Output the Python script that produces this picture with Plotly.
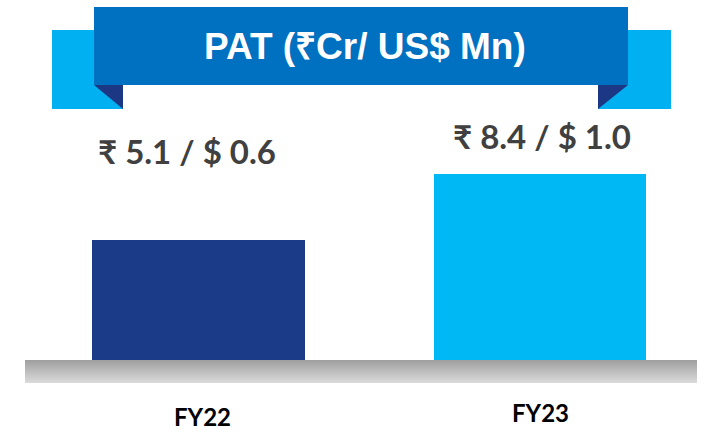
import plotly.graph_objects as go

# ---- data ----
categories = ["FY22", "FY23"]
pat_inr_cr = [5.1, 8.4]
pat_usd_mn = [0.6, 1.0]
title_text = "PAT (₹Cr/ US$ Mn)"

W, H = 705, 432
BAR_BASE = -0.9
bar_colors = ["#1B3A87", "#00B8F4"]


def px(x):
    return x / W


def py(y):
    return 1 - y / H


fig = go.Figure()
fig.add_trace(go.Bar(
    x=categories,
    y=[v - BAR_BASE for v in pat_inr_cr],
    base=BAR_BASE,
    width=0.6237,
    marker=dict(color=bar_colors, line=dict(width=0)),
    hoverinfo="skip",
))

shapes = []
# gradient grey floor band
y0, y1 = 360, 383
n = 23
c_top, c_bot = (160, 160, 160), (218, 218, 218)
for i in range(n):
    t = i / (n - 1)
    c = tuple(round(a + (b - a) * t) for a, b in zip(c_top, c_bot))
    shapes.append(dict(type="rect", xref="paper", yref="paper",
                       x0=px(25), x1=px(697),
                       y0=py(y0 + (y1 - y0) * i / n), y1=py(y0 + (y1 - y0) * (i + 1) / n),
                       fillcolor="rgb(%d,%d,%d)" % c, line=dict(width=0), layer="above"))

# banner wings
for (a, b) in [(52, 123), (598, 671)]:
    shapes.append(dict(type="rect", xref="paper", yref="paper",
                       x0=px(a), x1=px(b), y0=py(109), y1=py(30),
                       fillcolor="#00B0F0", line=dict(width=0), layer="above"))
# folds
for pts in [[(94, 85), (123, 85), (123, 109)], [(598, 85), (628, 85), (598, 109)]]:
    path = "M " + " L ".join("%f,%f" % (px(x), py(y)) for x, y in pts) + " Z"
    shapes.append(dict(type="path", xref="paper", yref="paper", path=path,
                       fillcolor="#1C3885", line=dict(width=0), layer="above"))
# main banner
shapes.append(dict(type="rect", xref="paper", yref="paper",
                   x0=px(94), x1=px(628), y0=py(85), y1=py(7),
                   fillcolor="#0070C0", line=dict(width=0), layer="above"))

annotations = [dict(x=px(365), y=py(47), xref="paper", yref="paper",
                    text="<b>%s</b>" % title_text, showarrow=False,
                    font=dict(family="Liberation Sans", size=37, color="white"),
                    xanchor="center", yanchor="middle")]

value_pos = [(187, 151), (541.5, 136)]
cat_pos = [(202.5, 432, "bottom"), (540, 412.5, "middle")]
for i, cat in enumerate(categories):
    annotations.append(dict(x=px(value_pos[i][0]), y=py(value_pos[i][1]), xref="paper", yref="paper",
                            text="<b>₹ %.1f / $ %.1f</b>" % (pat_inr_cr[i], pat_usd_mn[i]),
                            showarrow=False, xanchor="center", yanchor="middle",
                            font=dict(family="Lato", size=33, color="#404040")))
    annotations.append(dict(x=px(cat_pos[i][0]), y=py(cat_pos[i][1]), xref="paper", yref="paper",
                            text="<b>%s</b>" % cat, showarrow=False, borderpad=0,
                            xanchor="center", yanchor=cat_pos[i][2],
                            font=dict(family="Lato", size=24, color="#000000")))

fig.update_layout(
    width=W, height=H,
    margin=dict(l=0, r=0, t=0, b=0),
    paper_bgcolor="white", plot_bgcolor="white",
    showlegend=False,
    bargap=0,
    xaxis=dict(range=[-0.5813, 1.4832], showticklabels=False, showgrid=False,
               zeroline=False, showline=False, ticks=""),
    yaxis=dict(range=[-4.5, 17.1], showticklabels=False, showgrid=False,
               zeroline=False, showline=False, ticks=""),
    shapes=shapes,
    annotations=annotations,
)

fig.write_html("out.html", config={"displayModeBar": False},
               post_script="document.body.style.margin='0';document.body.style.overflow='hidden';")
